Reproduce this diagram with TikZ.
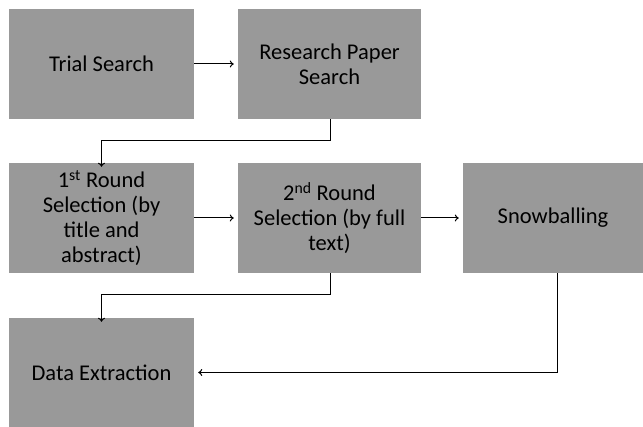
\documentclass[tikz,border=0pt]{standalone}
\usepackage{fontspec}
\setmainfont{Carlito}
\usetikzlibrary{arrows.meta}
\begin{document}
\begin{tikzpicture}[x=1pt,y=-1pt,
  stage/.style={draw=none,fill=stagegray,inner sep=2pt,align=center,
    font=\fontsize{22.5}{25}\selectfont,text=black},
  flow/.style={draw=black,line width=1pt,-{To[length=4pt,width=7pt]}}]
\definecolor{stagegray}{HTML}{999999}
\useasboundingbox (0,0) rectangle (643,427);
\node[stage,minimum width=185pt,minimum height=110pt] (trial) at (101.5,64) {Trial Search};
\node[stage,minimum width=183pt,minimum height=110pt] (paper) at (329.5,64) {Research Paper\\Search};
\node[stage,minimum width=185pt,minimum height=110pt] (first) at (101.5,218) {1\textsuperscript{st} Round\\Selection (by\\title and\\abstract)};
\node[stage,minimum width=183pt,minimum height=110pt] (second) at (329.5,218) {2\textsuperscript{nd} Round\\Selection (by full\\text)};
\node[stage,minimum width=180pt,minimum height=110pt] (snow) at (553,218) {Snowballing};
\node[stage,minimum width=185pt,minimum height=109pt] (data) at (101.5,372.5) {Data Extraction};
\coordinate (k1) at (330,141);
\coordinate (k2) at (330,295);
\draw[flow] (trial.east) -- ([xshift=-4pt]paper.west);
\draw[flow] (paper.south -| k1) -- (k1) -| ([yshift=-4pt]first.north);
\draw[flow] (first.east) -- ([xshift=-4pt]second.west);
\draw[flow] (second.east) -- ([xshift=-4pt]snow.west);
\draw[flow] (second.south -| k2) -- (k2) -| ([yshift=-4pt]data.north);
\draw[flow] ([xshift=4pt]snow.south) |- ([xshift=4pt]data.east);
\end{tikzpicture}
\end{document}
